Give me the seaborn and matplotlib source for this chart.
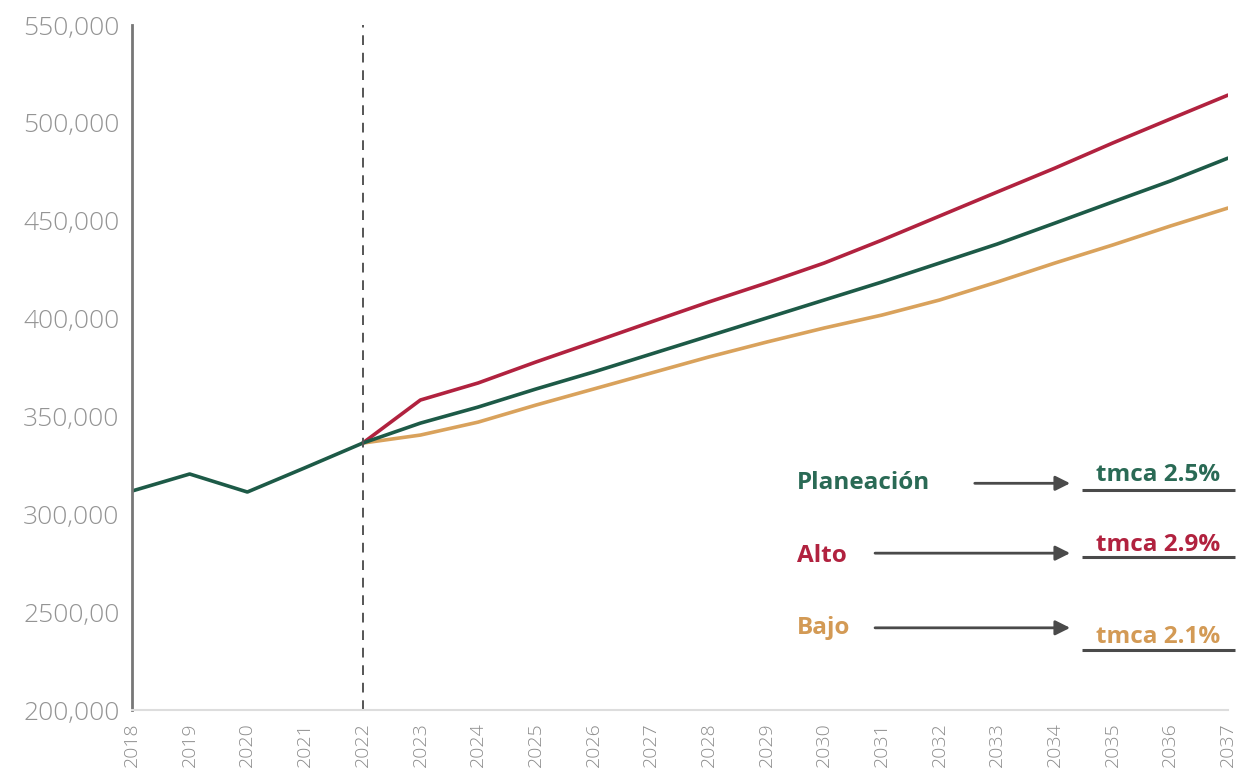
import matplotlib
matplotlib.use("Agg")
import matplotlib.pyplot as plt
import seaborn as sns
import pandas as pd

# Series values
years_hist = [2018, 2019, 2020, 2021, 2022]
hist = [311900, 320600, 311400, 323800, 336400]

years_proj = list(range(2022, 2038))
planeacion = [336400, 346600, 354800, 364000, 372700, 381900, 391100, 400300,
              409500, 418700, 428400, 438100, 448800, 459600, 470300, 482000]
alto = [336400, 358400, 367100, 377800, 388000, 398300, 408500, 418200,
        428400, 440100, 452400, 464700, 476900, 489700, 502000, 514200]
bajo = [336400, 340500, 347100, 355800, 364000, 372200, 380400, 388000,
        395200, 401800, 409500, 418700, 428400, 437600, 447300, 456500]

scenarios = ["Planeación", "Alto", "Bajo"]
growth_labels = ["tmca 2.5%", "tmca 2.9%", "tmca 2.1%"]
y_ticks = [200000, 250000, 300000, 350000, 400000, 450000, 500000, 550000]
y_tick_labels = ["200,000", "2500,00", "300,000", "350,000", "400,000",
                 "450,000", "500,000", "550,000"]

colors = {"Planeación": "#1d5a47", "Alto": "#b1223f", "Bajo": "#d9a25c"}
text_colors = {"Planeación": "#2a6a55", "Alto": "#b1223f", "Bajo": "#d39a55"}

df = pd.concat([
    pd.DataFrame({"year": years_hist[:-1] + years_proj, "value": hist[:-1] + planeacion,
                  "escenario": "Planeación"}),
    pd.DataFrame({"year": years_proj, "value": alto, "escenario": "Alto"}),
    pd.DataFrame({"year": years_proj, "value": bajo, "escenario": "Bajo"}),
])

sns.set_theme(style="white")
plt.rcParams["font.family"] = ["Open Sans", "DejaVu Sans"]

fig = plt.figure(figsize=(12.44, 7.83), dpi=100)
ax = fig.add_axes([0.1061, 0.0932, 0.8810, 0.8748])

# draw the low scenario first so the others sit on top
sns.lineplot(data=df, x="year", y="value", hue="escenario",
             hue_order=["Bajo", "Alto", "Planeación"], palette=colors,
             linewidth=2.6, legend=False, ax=ax)

ax.axvline(2022, color="#555555", lw=1.4, ls=(0, (5, 4)))

ax.set_xlim(2018, 2037)
ax.set_ylim(200000, 550000)
ax.set_xticks(range(2018, 2038))
ax.set_xticklabels([str(y) for y in range(2018, 2038)], rotation=90,
                   fontsize=14, color="#8c8c8c", fontweight="light")
ax.set_yticks(y_ticks)
ax.set_yticklabels(y_tick_labels, fontsize=19, color="#949494", fontweight="light")
ax.set_xlabel("")
ax.set_ylabel("")

for s in ["top", "right"]:
    ax.spines[s].set_visible(False)
ax.spines["left"].set_color("#777777")
ax.spines["left"].set_linewidth(2)
ax.spines["bottom"].set_color("#dddddd")
ax.spines["bottom"].set_linewidth(1.5)
ax.tick_params(axis="y", length=5, width=1.2, color="#777777", pad=4)
ax.tick_params(axis="x", length=5, width=1, color="#dddddd", pad=4)

# growth-rate annotations
rows = [
    # name, name_y, arrow_x0, arrow_y, tmca_y, line_y
    ("Planeación", 0.331, 0.769, 0.331, 0.343, 0.321),
    ("Alto", 0.225, 0.678, 0.229, 0.241, 0.223),
    ("Bajo", 0.120, 0.678, 0.120, 0.107, 0.088),
]
for (name, ny, ax0, ay, ty, ly), glabel in zip(rows, growth_labels):
    ax.text(0.607, ny, name, transform=ax.transAxes, ha="left", va="center",
            fontsize=17.5, fontweight="bold", color=text_colors[name])
    ax.annotate("", xy=(0.856, ay), xytext=(ax0, ay), xycoords="axes fraction",
                arrowprops=dict(arrowstyle="-|>", color="#4a4a4a", lw=2,
                                mutation_scale=22, shrinkA=0, shrinkB=0))
    ax.text(0.936, ty, glabel, transform=ax.transAxes, ha="center", va="center",
            fontsize=17.5, fontweight="bold", color=text_colors[name])
    ax.plot([0.867, 1.006], [ly, ly], transform=ax.transAxes, color="#4a4a4a",
            lw=2.2, clip_on=False, solid_capstyle="butt")

fig.savefig("out.png", dpi=100)
